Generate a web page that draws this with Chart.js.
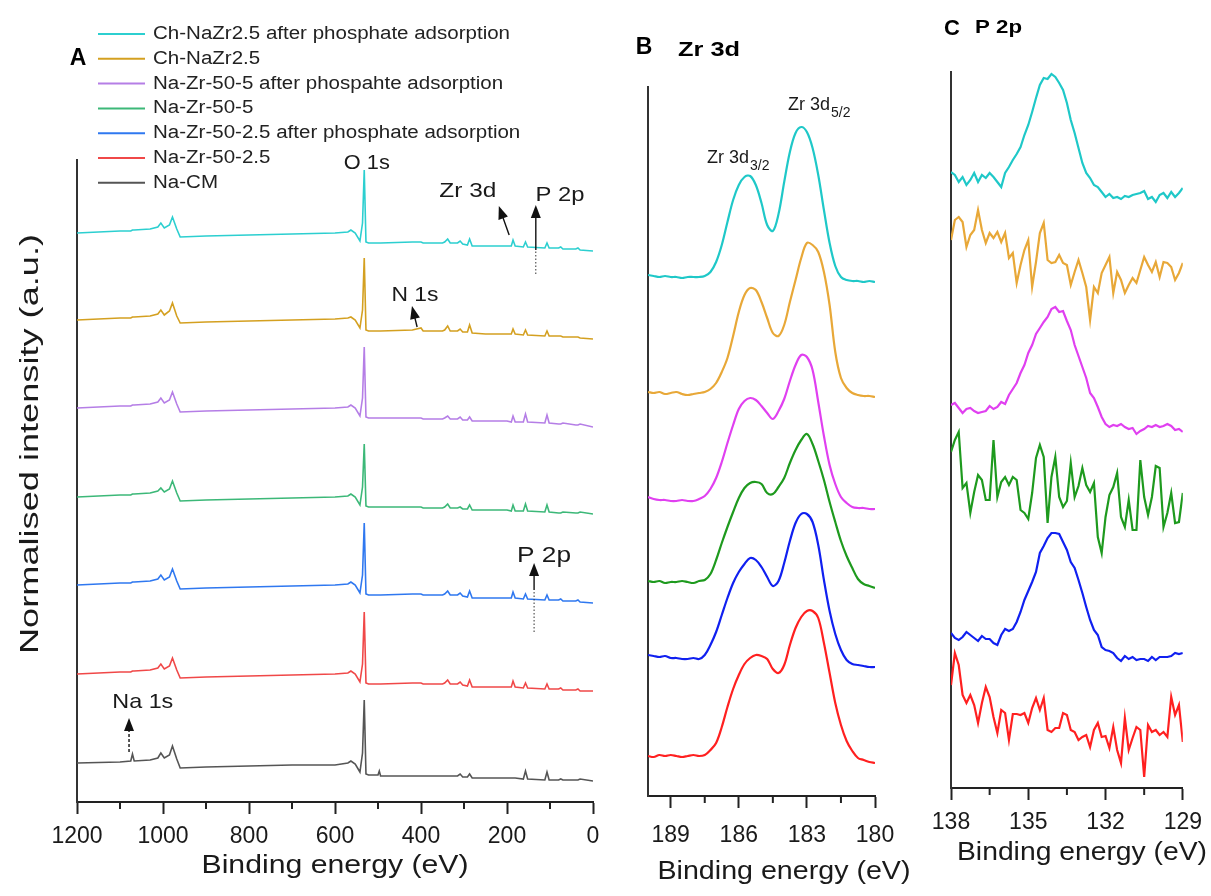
<!DOCTYPE html>
<html lang="en">
<head>
<meta charset="UTF-8">
<title>XPS spectra: survey, Zr 3d and P 2p</title>
<script src="https://cdn.jsdelivr.net/npm/chart.js"></script>
<style>
    body {
        margin: 0;
        background: #fff;
        width: 1211px;
        height: 896px;
        overflow: hidden;
        position: relative;
    }
    .panel { position: absolute; top: 0; height: 896px; }
    #panelA { left: 0; width: 620px; }
    #panelB { left: 620px; width: 300px; }
    #panelC { left: 920px; width: 291px; }
</style>
</head>
<body>
<div class="panel" id="panelA"><canvas id="chartA"></canvas></div>
<div class="panel" id="panelB"><canvas id="chartB"></canvas></div>
<div class="panel" id="panelC"><canvas id="chartC"></canvas></div>

<script>
// ---------- data: panel A, survey spectra (offset, a.u.) ----------
const sampleNames = [
    'Ch-NaZr2.5 after phosphate adsorption',
    'Ch-NaZr2.5',
    'Na-Zr-50-5 after phospahte adsorption',
    'Na-Zr-50-5',
    'Na-Zr-50-2.5 after phosphate adsorption',
    'Na-Zr-50-2.5',
    'Na-CM'
];
const surveyEnergy = [1200, 1100, 1075, 1071, 1067, 1030, 1012, 1005, 997, 985,
    978, 968, 960, 900, 800, 700, 600, 570, 563, 553,
    542, 536, 532, 528, 522, 500, 497, 494, 420, 400,
    395, 350, 345, 338, 332, 315, 309, 303, 292, 287,
    281, 250, 200, 190, 186, 181, 162, 157, 152, 112,
    107, 102, 80, 75, 70, 40, 35, 30, 0];
const surveyChNaZrP = [569, 571, 571, 572, 572, 573, 575, 579, 574, 577,
    585, 573, 565, 566, 567, 568, 569, 570, 572, 569,
    561, 579, 632, 560, 559, 559, 559, 559, 560, 560,
    559, 559, 560, 563, 559, 559, 561, 558, 557, 563,
    556, 556, 556, 556, 562, 556, 555, 560, 555, 554,
    559, 554, 554, 555, 553, 553, 554, 552, 551];
const surveyChNaZr = [482, 484, 484, 485, 485, 486, 488, 492, 487, 491,
    499, 486, 479, 480, 481, 482, 483, 484, 485, 482,
    474, 492, 544, 472, 471, 471, 471, 471, 472, 474,
    471, 471, 472, 476, 471, 471, 473, 470, 470, 477,
    469, 468, 468, 468, 473, 468, 467, 472, 467, 466,
    471, 466, 466, 466, 465, 465, 465, 464, 463];
const surveyNaZr5P = [394, 396, 396, 397, 397, 398, 400, 404, 399, 402,
    410, 398, 390, 391, 392, 393, 394, 395, 397, 394,
    386, 404, 455, 385, 384, 384, 384, 384, 384, 384,
    383, 383, 384, 386, 383, 383, 385, 382, 382, 385,
    381, 381, 381, 380, 386, 380, 380, 388, 380, 379,
    387, 379, 378, 378, 379, 377, 377, 378, 375];
const surveyNaZr5 = [305, 307, 307, 308, 308, 309, 311, 314, 310, 313,
    321, 309, 301, 302, 303, 304, 305, 306, 308, 305,
    297, 315, 358, 296, 295, 295, 295, 295, 295, 295,
    294, 294, 295, 298, 294, 294, 295, 293, 293, 297,
    292, 292, 292, 291, 297, 291, 291, 298, 291, 290,
    297, 290, 289, 289, 290, 289, 289, 290, 288];
const surveyNaZr25P = [217, 219, 219, 220, 220, 221, 223, 227, 222, 225,
    233, 221, 213, 214, 215, 216, 217, 218, 220, 217,
    209, 227, 279, 208, 207, 207, 207, 207, 208, 208,
    207, 207, 208, 211, 207, 207, 209, 206, 205, 211,
    204, 204, 204, 204, 210, 204, 203, 208, 203, 202,
    207, 202, 202, 203, 201, 201, 202, 200, 199];
const surveyNaZr25 = [128, 130, 130, 131, 131, 132, 134, 138, 133, 136,
    144, 132, 124, 125, 126, 127, 128, 129, 131, 128,
    120, 138, 190, 119, 118, 118, 118, 118, 119, 119,
    118, 118, 119, 122, 118, 118, 120, 117, 116, 122,
    115, 115, 115, 115, 121, 115, 114, 119, 114, 113,
    118, 113, 113, 114, 112, 112, 113, 111, 111];
const surveyNaCM = [39, 40, 41, 48, 41, 42, 44, 49, 44, 47,
    56, 43, 34, 35, 36, 37, 37, 39, 41, 38,
    30, 49, 102, 28, 27, 27, 31, 26, 26, 26,
    26, 26, 26, 26, 26, 26, 28, 25, 25, 28,
    24, 24, 24, 24, 24, 24, 23, 31, 23, 22,
    30, 22, 22, 23, 22, 22, 22, 23, 21];
const surveyTicks = [1200, 1000, 800, 600, 400, 200, 0];
const surveyMinorTicks = [1100, 900, 700, 500, 300, 100];

// ---------- data: panel B, Zr 3d ----------
const zrEnergy = [190, 189.75, 189.5, 189.25, 189, 188.75, 188.5, 188.25, 188, 187.75,
    187.5, 187.25, 187, 186.75, 186.5, 186.25, 186, 185.75, 185.5, 185.25,
    185, 184.75, 184.5, 184.25, 184, 183.75, 183.5, 183.25, 183, 182.75,
    182.5, 182.25, 182, 181.75, 181.5, 181.25, 181, 180.75, 180.5, 180.25, 180];
const zrChNaZrP = [521, 520, 519, 520, 519, 519, 518, 519, 519, 519,
    520, 524, 534, 551, 574, 596, 611, 619, 620, 611,
    593, 571, 565, 582, 614, 644, 663, 669, 664, 648,
    621, 586, 553, 530, 519, 516, 515, 515, 514, 515, 514];
const zrChNaZr = [404, 403, 404, 402, 403, 404, 402, 401, 402, 403,
    404, 407, 413, 424, 438, 460, 484, 501, 508, 506,
    494, 478, 463, 460, 471, 494, 516, 538, 553, 551,
    544, 524, 491, 444, 418, 408, 403, 401, 400, 400, 399];
const zrNaZr5P = [299, 297, 296, 296, 295, 295, 296, 295, 295, 297,
    300, 307, 318, 334, 353, 371, 387, 395, 398, 396,
    390, 383, 377, 385, 397, 415, 431, 441, 439, 426,
    394, 360, 331, 312, 299, 293, 289, 288, 288, 287, 287];
const zrNaZr5 = [215, 214, 215, 213, 214, 214, 215, 214, 213, 215,
    216, 222, 236, 253, 269, 284, 298, 308, 313, 314,
    312, 303, 302, 309, 318, 333, 346, 356, 362, 352,
    335, 316, 294, 274, 255, 240, 228, 217, 212, 210, 208];
const zrNaZr25P = [141, 140, 139, 140, 138, 138, 137, 137, 138, 137,
    141, 151, 164, 181, 198, 213, 224, 232, 238, 236,
    229, 219, 210, 215, 233, 255, 273, 282, 282, 274,
    251, 216, 185, 162, 146, 136, 132, 131, 130, 129, 129];
const zrNaZr25 = [40, 39, 41, 40, 41, 40, 39, 40, 41, 40,
    41, 46, 53, 69, 89, 107, 121, 132, 138, 141,
    140, 137, 127, 123, 131, 151, 168, 179, 185, 185,
    178, 153, 123, 93, 71, 55, 45, 38, 36, 34, 33];
const zrTicks = [189, 186, 183, 180];
const zrMinorTicks = [187.5, 184.5, 181.5];

// ---------- data: panel C, P 2p ----------
const pEnergy = [138, 137.85, 137.7, 137.55, 137.4, 137.25, 137.1, 136.95, 136.8, 136.65,
    136.5, 136.35, 136.2, 136.05, 135.9, 135.75, 135.6, 135.45, 135.3, 135.15,
    135, 134.85, 134.7, 134.55, 134.4, 134.25, 134.1, 133.95, 133.8, 133.65,
    133.5, 133.35, 133.2, 133.05, 132.9, 132.75, 132.6, 132.45, 132.3, 132.15,
    132, 131.85, 131.7, 131.55, 131.4, 131.25, 131.1, 130.95, 130.8, 130.65,
    130.5, 130.35, 130.2, 130.05, 129.9, 129.75, 129.6, 129.45, 129.3, 129.15, 129];
const pChNaZrP = [616, 613, 606, 611, 603, 608, 615, 606, 613, 610,
    615, 611, 606, 601, 615, 621, 628, 634, 641, 653,
    663, 676, 690, 703, 710, 709, 714, 711, 705, 698,
    685, 668, 655, 640, 625, 615, 610, 603, 601, 596,
    591, 594, 590, 591, 589, 592, 591, 593, 594, 595,
    597, 589, 591, 586, 593, 595, 590, 596, 591, 595, 600];
const pChNaZr = [548, 568, 571, 566, 541, 553, 558, 578, 558, 545,
    555, 550, 556, 546, 555, 530, 535, 505, 523, 538,
    548, 501, 526, 555, 565, 528, 525, 526, 533, 525,
    523, 503, 516, 528, 515, 501, 468, 501, 495, 515,
    523, 531, 495, 516, 508, 495, 503, 510, 505, 518,
    531, 523, 516, 526, 511, 526, 525, 521, 508, 515, 525];
const pNaZr5P = [383, 385, 380, 375, 379, 380, 377, 375, 376, 377,
    382, 379, 381, 386, 384, 393, 399, 405, 415, 423,
    435, 443, 454, 460, 466, 471, 479, 481, 476, 477,
    467, 458, 443, 432, 421, 410, 395, 390, 381, 371,
    364, 361, 363, 362, 364, 361, 359, 360, 354, 357,
    359, 362, 361, 363, 361, 362, 364, 362, 358, 359, 356];
const pNaZr5 = [336, 348, 356, 300, 305, 275, 296, 313, 308, 288,
    288, 348, 291, 306, 311, 303, 311, 308, 278, 275,
    269, 295, 330, 343, 331, 265, 311, 331, 291, 281,
    287, 325, 291, 302, 320, 303, 296, 305, 251, 235,
    271, 293, 301, 315, 271, 261, 288, 258, 258, 328,
    291, 273, 291, 322, 320, 261, 275, 295, 265, 266, 295];
const pNaZr25P = [155, 150, 148, 151, 156, 153, 150, 147, 152, 149,
    149, 145, 143, 153, 159, 157, 159, 166, 176, 188,
    197, 206, 216, 235, 242, 250, 255, 255, 254, 246,
    238, 226, 220, 208, 195, 181, 168, 158, 153, 141,
    138, 137, 135, 130, 127, 132, 129, 131, 128, 129,
    129, 127, 131, 128, 131, 131, 131, 132, 135, 134, 135];
const pNaZr25 = [103, 135, 123, 93, 85, 93, 83, 65, 85, 101,
    91, 71, 55, 78, 75, 48, 74, 74, 73, 75,
    65, 80, 90, 78, 90, 58, 56, 60, 60, 75,
    73, 58, 56, 48, 51, 53, 41, 58, 65, 51,
    52, 40, 61, 38, 25, 70, 38, 50, 61, 58,
    11, 63, 56, 58, 53, 56, 51, 91, 73, 83, 46];
const pTicks = [138, 135, 132, 129];
const pMinorTicks = [136.5, 133.5, 130.5];

// ---------- styling ----------
const FONT = 'Arial, "Liberation Sans", sans-serif';
const surveyColors = ['#2ccfd0', '#d4a020', '#b57ee6', '#3cb878', '#2f78f0', '#f04848', '#555555'];
const detailColors = ['#1fc8c8', '#e8a838', '#e040f0', '#1e9a1e', '#1020f0', '#ff2020'];

// small helpers for the annotation plugin
function drawText(ctx, t) {
    ctx.save();
    ctx.font = t.font;
    ctx.fillStyle = t.color || '#1a1a1a';
    ctx.textBaseline = 'middle';
    ctx.translate(t.x, t.y);
    if (t.rotate) ctx.rotate(t.rotate);
    const w = ctx.measureText(t.text).width;
    const sx = t.width ? t.width / w : (t.stretch || 1);
    ctx.scale(sx, 1);
    const align = t.align || 'left';
    let x0 = align === 'center' ? -w / 2 : 0;
    ctx.textAlign = 'left';
    ctx.fillText(t.text, x0, 0);
    if (t.sub) {
        ctx.font = t.subFont;
        ctx.fillText(t.sub, x0 + w + 1, t.subDy || 7);
    }
    ctx.restore();
}

function drawArrow(ctx, x1, y1, x2, y2, dashed) {
    const ang = Math.atan2(y2 - y1, x2 - x1);
    const hl = 13, hw = 5;
    const c = Math.cos(ang), s = Math.sin(ang);
    ctx.save();
    ctx.strokeStyle = '#111';
    ctx.fillStyle = '#111';
    ctx.lineWidth = 1.4;
    if (dashed) ctx.setLineDash([3, 2]);
    ctx.beginPath();
    ctx.moveTo(x1, y1);
    ctx.lineTo(x2 - hl * 0.8 * c, y2 - hl * 0.8 * s);
    ctx.stroke();
    ctx.setLineDash([]);
    ctx.beginPath();
    ctx.moveTo(x2, y2);
    ctx.lineTo(x2 - hl * c + hw * s, y2 - hl * s - hw * c);
    ctx.lineTo(x2 - hl * c - hw * s, y2 - hl * s + hw * c);
    ctx.closePath();
    ctx.fill();
    ctx.restore();
}

const extrasPlugin = {
    id: 'extras',
    afterDraw(chart, args, o) {
        const ctx = chart.ctx;
        const xs = chart.scales.x, ys = chart.scales.y;
        const bottom = chart.chartArea.bottom;

        // short minor ticks below the x axis
        ctx.save();
        ctx.strokeStyle = '#222';
        ctx.lineWidth = 2;
        (o.minor || []).forEach(v => {
            const x = xs.getPixelForValue(v);
            ctx.beginPath();
            ctx.moveTo(x, bottom);
            ctx.lineTo(x, bottom + 7);
            ctx.stroke();
        });
        ctx.restore();

        // arrows given in data units
        (o.arrows || []).forEach(a => {
            const x = xs.getPixelForValue(a.tail[0]);
            const y = ys.getPixelForValue(a.tail[1]);
            const hx = xs.getPixelForValue(a.head[0]);
            const hy = ys.getPixelForValue(a.head[1]);
            if (a.dotFrom !== undefined) {
                ctx.save();
                ctx.strokeStyle = '#333';
                ctx.lineWidth = 1;
                ctx.setLineDash([1.5, 2]);
                ctx.beginPath();
                ctx.moveTo(x, ys.getPixelForValue(a.dotFrom));
                ctx.lineTo(x, y);
                ctx.stroke();
                ctx.restore();
            }
            drawArrow(ctx, x, y, hx, hy, a.dashed);
        });

        // labels anchored in data units
        (o.labels || []).forEach(t => {
            drawText(ctx, Object.assign({}, t, {
                x: xs.getPixelForValue(t.at[0]),
                y: ys.getPixelForValue(t.at[1])
            }));
        });

        // labels in canvas pixels (panel letters, axis titles)
        (o.texts || []).forEach(t => drawText(ctx, t));

        // vertical legend
        if (o.legend) {
            const L = o.legend;
            chart.data.datasets.forEach((ds, i) => {
                const y = L.y + i * L.step;
                ctx.save();
                ctx.strokeStyle = ds.borderColor;
                ctx.lineWidth = 2;
                ctx.beginPath();
                ctx.moveTo(L.x, y);
                ctx.lineTo(L.x + L.line, y);
                ctx.stroke();
                ctx.restore();
                drawText(ctx, { text: ds.label, x: L.x + L.line + L.gap, y: y, font: L.font, stretch: L.stretch, color: '#222' });
            });
        }
    }
};

function makeChart(id, energies, series, colors, cfg) {
    return new Chart(document.getElementById(id), {
        type: 'line',
        data: {
            datasets: series.map((vals, i) => ({
                label: sampleNames[i],
                data: energies.map((e, k) => ({ x: e, y: vals[k] })),
                borderColor: colors[i],
                borderWidth: cfg.lineWidth,
                pointRadius: 0,
                tension: cfg.tension,
                fill: false
            }))
        },
        options: {
            responsive: true,
            maintainAspectRatio: false,
            animation: false,
            layout: { padding: cfg.padding },
            plugins: {
                legend: { display: false },
                tooltip: { enabled: false },
                extras: cfg.extras
            },
            scales: {
                x: {
                    type: 'linear',
                    reverse: true,
                    min: cfg.xMin,
                    max: cfg.xMax,
                    afterFit: s => { s.height = cfg.xHeight; },
                    afterBuildTicks: s => { s.ticks = cfg.ticks.map(v => ({ value: v })); },
                    ticks: {
                        font: { size: cfg.tickSize, family: FONT },
                        color: '#1a1a1a',
                        padding: cfg.tickPad,
                        maxRotation: 0,
                        autoSkip: false,
                        callback: v => String(v)
                    },
                    grid: { drawOnChartArea: false, drawTicks: true, tickLength: 12, tickWidth: 2, tickColor: '#222' },
                    border: { display: true, color: '#222', width: 2 }
                },
                y: {
                    min: 0,
                    max: cfg.yMax,
                    afterFit: s => { s.width = cfg.yWidth; },
                    ticks: { display: false },
                    grid: { display: false },
                    border: { display: true, color: '#333', width: 2 }
                }
            }
        },
        plugins: [extrasPlugin]
    });
}

// ---------- panel A ----------
makeChart('chartA', surveyEnergy,
    [surveyChNaZrP, surveyChNaZr, surveyNaZr5P, surveyNaZr5, surveyNaZr25P, surveyNaZr25, surveyNaCM],
    surveyColors, {
        lineWidth: 1.6, tension: 0,
        padding: { top: 160, right: 27, left: 0, bottom: 0 },
        xMin: 0, xMax: 1200, xHeight: 94, yWidth: 77, yMax: 642,
        ticks: surveyTicks, tickSize: 23, tickPad: 9,
        extras: {
            minor: surveyMinorTicks,
            legend: { x: 98, y: 34, step: 24.8, line: 47, gap: 8, font: '18px ' + FONT, stretch: 1.14 },
            arrows: [
                { tail: [195, 567], head: [219, 596] },
                { tail: [133, 552], head: [133, 597], dotFrom: 528 },
                { tail: [409, 475], head: [421, 496] },
                { tail: [137, 212], head: [137, 239], dotFrom: 170 },
                { tail: [1079, 50], head: [1079, 84], dashed: true }
            ],
            labels: [
                { text: 'O 1s', at: [526, 639], align: 'center', font: '20px ' + FONT, width: 46 },
                { text: 'Zr 3d', at: [291, 611], align: 'center', font: '21px ' + FONT, width: 57 },
                { text: 'P 2p', at: [77, 607], align: 'center', font: '21px ' + FONT, width: 49 },
                { text: 'N 1s', at: [414, 507], align: 'center', font: '20px ' + FONT, width: 47 },
                { text: 'P 2p', at: [114, 246], align: 'center', font: '22px ' + FONT, width: 54 },
                { text: 'Na 1s', at: [1047, 100], align: 'center', font: '21px ' + FONT, width: 61 }
            ],
            texts: [
                { text: 'A', x: 78, y: 59, align: 'center', font: 'bold 23px ' + FONT, color: '#000' },
                { text: 'Normalised intensity (a.u.)', x: 31, y: 444, rotate: -Math.PI / 2, align: 'center', font: '26px ' + FONT, width: 420 },
                { text: 'Binding energy (eV)', x: 335, y: 866, align: 'center', font: '25px ' + FONT, width: 267 }
            ]
        }
    });

// ---------- panel B ----------
makeChart('chartB', zrEnergy,
    [zrChNaZrP, zrChNaZr, zrNaZr5P, zrNaZr5, zrNaZr25P, zrNaZr25],
    detailColors, {
        lineWidth: 2.2, tension: 0.35,
        padding: { top: 87, right: 45, left: 0, bottom: 0 },
        xMin: 180, xMax: 190, xHeight: 100, yWidth: 28, yMax: 709,
        ticks: zrTicks, tickSize: 23, tickPad: 14,
        extras: {
            minor: zrMinorTicks,
            labels: [
                { text: 'Zr 3d', sub: '3/2', at: [187.4, 638], font: '18px ' + FONT, subFont: '14px ' + FONT, subDy: 8 },
                { text: 'Zr 3d', sub: '5/2', at: [183.83, 691], font: '18px ' + FONT, subFont: '14px ' + FONT, subDy: 8 }
            ],
            texts: [
                { text: 'B', x: 24, y: 48, align: 'center', font: 'bold 23px ' + FONT, color: '#000' },
                { text: 'Zr 3d', x: 58, y: 50, font: 'bold 21px ' + FONT, width: 62, color: '#000' },
                { text: 'Binding energy (eV)', x: 164, y: 872, align: 'center', font: '25px ' + FONT, width: 253 }
            ]
        }
    });

// ---------- panel C ----------
makeChart('chartC', pEnergy,
    [pChNaZrP, pChNaZr, pNaZr5P, pNaZr5, pNaZr25P, pNaZr25],
    detailColors, {
        lineWidth: 2.2, tension: 0,
        padding: { top: 72, right: 23, left: 0, bottom: 0 },
        xMin: 129, xMax: 138, xHeight: 108, yWidth: 31, yMax: 716,
        ticks: pTicks, tickSize: 23, tickPad: 9,
        extras: {
            minor: pMinorTicks,
            texts: [
                { text: 'C', x: 32, y: 29, align: 'center', font: 'bold 22px ' + FONT, color: '#000' },
                { text: 'P 2p', x: 55, y: 28, font: 'bold 19px ' + FONT, width: 47, color: '#000' },
                { text: 'Binding energy (eV)', x: 162, y: 853, align: 'center', font: '25px ' + FONT, width: 250 }
            ]
        }
    });
</script>
</body>
</html>
